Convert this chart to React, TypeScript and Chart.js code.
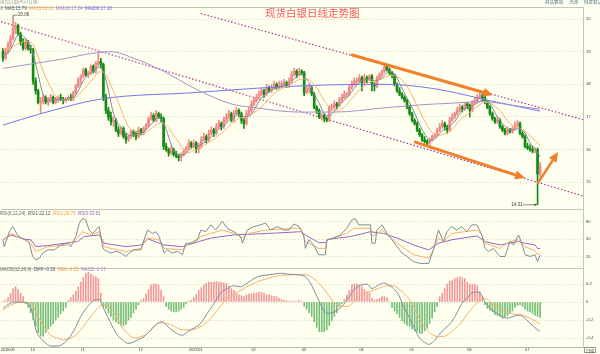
import React, { useEffect, useRef } from 'react';
import { Chart, registerables } from 'chart.js';
Chart.register(...registerables);

// ---------- price candles (index = trading day) ----------
const opens = [
  19.0,18.8,19.0,19.2,19.4,19.7,19.8,19.55,19.3,19.1,
  19.3,19.1,19.05,18.1,17.8,17.45,17.5,17.6,17.45,17.55,
  17.6,17.45,17.5,17.6,17.55,17.5,17.55,17.6,17.55,17.75,
  17.95,18.15,18.25,18.45,18.3,18.35,18.55,18.4,18.65,18.7,
  18.6,17.6,17.2,17.0,16.85,16.9,16.6,16.5,16.65,16.4,
  16.3,16.4,16.55,16.5,16.4,16.6,16.5,16.65,16.75,16.95,
  17.05,16.9,17.1,17.0,16.95,16.1,16.0,15.9,16.0,15.85,
  15.8,15.75,15.85,15.95,16.05,16.2,16.1,16.2,16.0,16.1,
  16.3,16.4,16.3,16.5,16.6,16.5,16.7,16.8,16.7,16.9,
  17.0,17.1,16.9,17.1,17.2,17.1,16.9,16.8,17.1,17.2,
  17.4,17.5,17.6,17.7,17.8,17.7,17.9,17.8,17.9,18.0,
  17.9,18.0,18.0,18.05,17.95,18.1,18.3,18.4,18.3,18.4,
  18.35,17.75,17.85,17.9,17.7,17.3,17.2,17.0,17.05,16.95,
  16.9,17.3,17.3,17.4,17.35,17.5,17.6,17.7,17.7,17.9,
  18.0,18.1,18.1,18.2,18.05,18.2,18.15,18.25,18.0,17.95,
  18.2,18.3,18.4,18.55,18.45,18.35,18.3,18.0,17.8,17.7,
  17.6,17.5,17.3,17.1,16.9,16.8,16.6,16.45,16.3,16.25,
  16.2,16.3,16.4,16.45,16.6,16.7,16.8,16.7,16.6,16.9,
  17.0,17.1,17.2,17.3,17.25,17.4,17.35,17.2,17.45,17.5,
  17.6,17.65,17.6,17.45,17.3,17.1,16.95,16.85,16.9,16.7,
  16.6,16.5,16.6,16.55,16.65,16.75,16.8,16.5,16.4,16.1,
  16.05,16.0,15.95,16.0,15.25,
];
const highs = [
  19.1,19.1,19.3,19.5,20.06,19.9,19.85,19.6,19.4,19.4,
  19.35,19.2,19.1,18.2,17.85,17.6,17.7,17.65,17.6,17.7,
  17.65,17.6,17.65,17.7,17.6,17.6,17.65,17.7,17.8,18.0,
  18.2,18.3,18.5,18.5,18.4,18.6,18.6,18.7,19.0,18.8,
  18.65,17.7,17.3,17.15,17.0,16.95,16.7,16.7,16.7,16.5,
  16.45,16.6,16.6,16.55,16.7,16.65,16.7,16.8,17.0,17.15,
  17.1,17.2,17.15,17.1,17.0,16.2,16.05,16.1,16.05,15.95,
  15.85,15.9,16.0,16.1,16.3,16.25,16.3,16.25,16.2,16.4,
  16.5,16.45,16.6,16.7,16.65,16.8,16.9,16.85,17.0,17.1,
  17.2,17.15,17.2,17.3,17.25,17.15,16.95,17.2,17.3,17.5,
  17.6,17.7,17.8,17.9,17.85,18.0,17.95,18.0,18.1,18.05,
  18.1,18.1,18.15,18.1,18.2,18.4,18.5,18.45,18.5,18.45,
  18.4,17.95,18.0,17.95,17.75,17.35,17.25,17.1,17.1,17.0,
  17.35,17.4,17.5,17.45,17.6,17.7,17.8,17.75,18.0,18.1,
  18.2,18.2,18.3,18.25,18.3,18.25,18.3,18.3,18.05,18.25,
  18.35,18.45,18.6,18.62,18.5,18.4,18.3,18.05,17.9,17.75,
  17.65,17.55,17.35,17.15,16.95,16.85,16.65,16.5,16.4,16.3,
  16.35,16.45,16.5,16.65,16.8,16.9,16.85,16.75,17.0,17.1,
  17.15,17.3,17.4,17.35,17.45,17.45,17.4,17.5,17.6,17.7,
  17.75,17.7,17.65,17.5,17.35,17.15,17.0,17.0,16.95,16.75,
  16.65,16.7,16.65,16.7,16.85,16.9,16.85,16.55,16.45,16.2,
  16.15,16.1,16.05,16.05,15.6,
];
const lows = [
  18.7,18.75,18.95,19.1,19.35,19.55,19.5,19.2,19.05,19.05,
  19.05,18.95,18.0,17.7,17.4,17.1,17.4,17.4,17.35,17.45,
  17.4,17.4,17.45,17.5,17.4,17.45,17.5,17.5,17.5,17.7,
  17.9,18.0,18.2,18.25,18.2,18.3,18.35,18.35,18.55,18.5,
  17.5,17.1,16.9,16.75,16.7,16.55,16.4,16.45,16.35,16.2,
  16.25,16.35,16.4,16.3,16.35,16.45,16.45,16.6,16.7,16.9,
  16.85,16.85,16.95,16.85,16.0,15.95,15.8,15.85,15.8,15.75,
  15.65,15.65,15.8,15.9,16.0,16.05,16.05,15.9,15.9,16.05,
  16.25,16.2,16.25,16.45,16.4,16.45,16.65,16.6,16.65,16.85,
  16.95,16.85,16.85,17.05,17.0,16.8,16.65,16.75,17.05,17.15,
  17.35,17.45,17.55,17.65,17.6,17.65,17.75,17.75,17.85,17.85,
  17.85,17.9,17.95,17.9,17.9,18.05,18.25,18.2,18.25,18.3,
  17.65,17.7,17.75,17.65,17.25,17.1,16.95,16.9,16.85,16.85,
  16.85,17.2,17.25,17.25,17.3,17.45,17.55,17.6,17.65,17.85,
  17.95,18.0,18.05,17.8,18.0,18.05,18.1,17.8,17.8,17.9,
  18.15,18.25,18.35,18.4,18.3,18.2,17.95,17.75,17.65,17.55,
  17.45,17.25,17.05,16.85,16.75,16.55,16.4,16.25,16.2,16.1,
  16.15,16.25,16.35,16.4,16.55,16.65,16.6,16.5,16.55,16.85,
  16.95,17.05,17.15,17.15,17.2,17.25,17.0,17.15,17.4,17.45,
  17.55,17.5,17.4,17.25,17.05,16.9,16.8,16.8,16.65,16.55,
  16.45,16.45,16.5,16.5,16.6,16.7,16.45,16.35,16.05,16.0,
  15.95,15.9,15.9,14.31,15.15,
];
const closes = [
  18.8,19.0,19.2,19.4,19.7,19.8,19.55,19.3,19.1,19.3,
  19.1,19.05,18.1,17.8,17.45,17.5,17.6,17.45,17.55,17.6,
  17.45,17.5,17.6,17.55,17.5,17.55,17.6,17.55,17.75,17.95,
  18.15,18.25,18.45,18.3,18.35,18.55,18.4,18.65,18.7,18.6,
  17.6,17.2,17.0,16.85,16.9,16.6,16.5,16.65,16.4,16.3,
  16.4,16.55,16.5,16.4,16.6,16.5,16.65,16.75,16.95,17.05,
  16.9,17.1,17.0,16.95,16.1,16.0,15.9,16.0,15.85,15.8,
  15.75,15.85,15.95,16.05,16.2,16.1,16.2,16.0,16.1,16.3,
  16.4,16.3,16.5,16.6,16.5,16.7,16.8,16.7,16.9,17.0,
  17.1,16.9,17.1,17.2,17.1,16.9,16.8,17.1,17.2,17.4,
  17.5,17.6,17.7,17.8,17.7,17.9,17.8,17.9,18.0,17.9,
  18.0,18.0,18.05,17.95,18.1,18.3,18.4,18.3,18.4,18.35,
  17.75,17.85,17.9,17.7,17.3,17.2,17.0,17.05,16.95,16.9,
  17.3,17.3,17.4,17.35,17.5,17.6,17.7,17.7,17.9,18.0,
  18.1,18.1,18.2,18.05,18.2,18.15,18.25,18.0,17.95,18.2,
  18.3,18.4,18.55,18.45,18.35,18.3,18.0,17.8,17.7,17.6,
  17.5,17.3,17.1,16.9,16.8,16.6,16.45,16.3,16.25,16.2,
  16.3,16.4,16.45,16.6,16.7,16.8,16.7,16.6,16.9,17.0,
  17.1,17.2,17.3,17.25,17.4,17.35,17.2,17.45,17.5,17.6,
  17.65,17.6,17.45,17.3,17.1,16.95,16.85,16.9,16.7,16.6,
  16.5,16.6,16.55,16.65,16.75,16.8,16.5,16.4,16.1,16.05,
  16.0,15.95,16.0,15.25,15.5,
];

// ---------- moving averages (read every 2nd day) ----------
const ma5 = [
  18.9,18.96,19.22,19.53,19.49,19.27,18.93,18.3,17.69,17.51,
  17.53,17.54,17.52,17.56,17.59,17.8,18.11,18.3,18.41,18.53,
  18.39,17.82,17.11,16.77,16.61,16.45,16.43,16.49,16.53,16.69,
  16.86,17.0,16.81,16.39,15.97,15.86,15.84,15.96,16.1,16.12,
  16.2,16.32,16.46,16.62,16.72,16.9,17.0,17.08,17.02,17.02,
  17.2,17.48,17.66,17.78,17.86,17.92,17.99,18.02,18.16,18.3,
  18.24,18.05,17.7,17.42,17.1,17.04,17.17,17.37,17.51,17.68,
  17.88,18.06,18.13,18.17,18.11,18.14,18.28,18.41,18.33,18.03,
  17.72,17.44,17.12,16.77,16.48,16.3,16.32,16.49,16.65,16.74,
  16.86,17.1,17.25,17.3,17.38,17.48,17.56,17.42,17.13,16.9,
  16.71,16.59,16.61,16.65,16.51,16.21,16.02,15.79,
];
const ma10 = [
  19.1,19.1,19.15,19.25,19.3,19.32,19.22,18.84,18.4,18.06,
  17.76,17.57,17.52,17.55,17.56,17.67,17.84,18.0,18.18,18.37,
  18.37,18.15,17.79,17.44,17.04,16.7,16.56,16.51,16.49,16.58,
  16.69,16.8,16.8,16.66,16.44,16.23,16.01,15.91,15.97,16.01,
  16.12,16.22,16.31,16.44,16.56,16.72,16.84,16.95,16.99,17.03,
  17.13,17.25,17.39,17.56,17.72,17.82,17.9,17.96,18.06,18.15,
  18.17,18.14,17.99,17.78,17.49,17.3,17.21,17.22,17.3,17.47,
  17.66,17.83,17.95,18.07,18.1,18.15,18.21,18.27,18.27,18.19,
  18.05,17.81,17.5,17.18,16.88,16.62,16.47,16.44,16.48,16.57,
  16.71,16.9,17.02,17.14,17.28,17.38,17.45,17.43,17.32,17.2,
  16.99,16.8,16.7,16.65,16.56,16.42,16.28,16.11,
];
const ma100Pts: [number, number][] = [
  [0,18.49],[21,18.74],[43,19.0],[52,18.8],[63,18.44],[77,17.85],[91,17.4],[99,17.3],
  [118,17.15],[132,17.15],[152,17.28],[166,17.37],[178,17.42],[191,17.47],[202,17.37],[214,17.24],
];
const ma200Pts: [number, number][] = [
  [0,16.75],[15,17.1],[39,17.55],[77,17.75],[101,17.88],[128,17.98],[152,18.0],
  [166,17.93],[178,17.78],[191,17.55],[202,17.37],[214,17.18],
];

// ---------- hand-drawn annotations (index, price) ----------
const trendLines: [number, number, number, number][] = [
  [-0.8, 19.92, 231.1, 14.58],
  [78.8, 20.17, 231.1, 16.92],
];
const arrows: [number, number, number, number][] = [
  [139.2, 18.9, 195.3, 17.67],
  [164.3, 16.23, 208.0, 15.13],
  [213.2, 14.98, 221.2, 15.93],
];
const arrowWidths = [3, 3, 2.5];

// ---------- RSI(6,12,24) ----------
const rsi1Pts: [number, number][] = [
  [0,49],[0.5,37],[2.5,63],[3.8,72],[5.8,57.5],[7.2,52],[9.2,49],[10.5,43],[11.8,20],[13.1,14],
  [14.5,17],[15.8,26],[17.8,31.5],[20.4,31.5],[23.1,40],[25.7,43],[27,37],[29,54.6],[30.4,78],[31.7,86],
  [33,83.5],[34.3,66],[35.7,60],[37,66],[38.3,72],[39.7,37],[40.3,31.5],[41.6,29],[43,26],[45,29],
  [47,26],[49,20],[50.3,26],[52.3,31.5],[54.9,31.5],[56.2,49],[57.6,66],[59.5,60],[60.9,63],[62.2,54.6],
  [64.2,26],[65.5,31.5],[67.5,26],[69.5,29],[71.5,23],[72.8,43],[75.5,43],[77.5,49],[78.8,66],[80.8,63],
  [82.8,75],[84.7,66],[87.4,81],[89.4,69],[92,63],[94.7,54.6],[95.4,43],[97.3,66],[100,72],[102.6,75],
  [104.6,78],[106.6,66],[109.3,72],[111.9,66],[113.9,66],[115.9,76.6],[118,72],[119.8,57.5],[120.5,34],[121.8,49],
  [123.8,40],[125.8,23],[128.4,23],[129.1,49],[131.8,52],[134.4,57.5],[137,69],[139,83.5],[140.4,86],[141.7,75],
  [143.7,75],[146.4,75],[147,43],[148.3,43],[149,66],[151,75],[153,60],[155,49],[157,37],[159,26],
  [161,20],[163.6,11],[166.2,8],[169.6,8],[171.5,31.5],[173.5,66],[175.5,46],[176.9,63],[178.8,72],[180.8,66],
  [182.8,72],[184.8,63],[186.8,75],[188.8,75],[190.8,57.5],[192.1,34],[193.4,28.6],[195.4,34],[198,20],[200,20],
  [202,46],[203.4,40],[205.4,57.5],[206.7,43],[208,23],[210,20],[212,23],[213,11],[214,22.1],
];
const rsi2Pts: [number, number][] = [
  [0,49],[3.2,60],[7.2,52],[11.1,43],[13.1,28.6],[17.8,37],[25.7,40],[29,49],[31.7,63],[35,57.5],
  [38.3,63],[40.3,37],[43,34],[49,28.6],[54.9,34],[57.6,52],[62.2,49],[64.2,34],[71.5,31.5],[73.5,40],
  [78.8,54.6],[82.8,60],[87.4,66],[92,60],[95.4,52],[98,60],[104.6,66],[115.9,69],[118.5,69],[120.5,46],
  [125.8,34],[128.4,34],[129.1,49],[137,60],[139.7,69],[146.4,69],[147,54.6],[149,60],[151,66],[157,43],
  [163.6,23],[169.6,17],[171.5,31.5],[173.5,52],[175.5,46],[178.8,60],[188.8,66],[190.8,57.5],[192.1,43],[198,34],
  [202,46],[205.4,49],[208,37],[212,30],[213,23],[214,26.8],
];
const rsi3Pts: [number, number][] = [
  [0,49],[3.2,57.5],[8.5,50],[11.1,49],[13.1,37],[17.8,39],[29.7,46],[32.4,54.6],[38.3,57.5],[40.3,43],
  [49,37],[54.9,40],[57.6,50.6],[64.2,40],[71.5,37],[73.5,40],[82.8,52],[92,57.5],[105.3,60],[118.5,63],
  [120.5,57.5],[125.8,44],[128.4,44],[129.8,50],[138.4,54.6],[146.4,63],[151.7,60],[157,52],[163.6,40],[169.6,31.5],
  [173.5,43],[178.8,49],[188.8,55.8],[192.1,46],[198,40],[205.4,46],[208,43],[212,40],[213,34],[214,33.8],
];

// ---------- MACD(12,26,9) ----------
const macdHist = [
  0.01,0.02,0.05,0.1,0.15,0.17,0.14,0.1,0.06,-0.02,
  -0.06,-0.12,-0.2,-0.27,-0.34,-0.38,-0.38,-0.34,-0.3,-0.27,
  -0.24,-0.2,-0.17,-0.13,-0.1,-0.06,0.02,0.05,0.08,0.12,
  0.17,0.22,0.27,0.32,0.33,0.31,0.29,0.28,0.26,0.1,
  -0.05,-0.07,-0.12,-0.16,-0.2,-0.22,-0.24,-0.26,-0.26,-0.25,
  -0.2,-0.17,-0.12,-0.08,-0.03,0.02,0.04,0.09,0.14,0.19,
  0.2,0.2,0.19,0.13,0.06,-0.05,-0.08,-0.1,-0.11,-0.11,
  -0.1,-0.08,-0.06,-0.02,0.01,0.02,0.05,0.08,0.13,0.16,
  0.19,0.21,0.22,0.22,0.22,0.23,0.22,0.22,0.21,0.21,
  0.18,0.15,0.13,0.1,0.08,0.07,0.06,0.08,0.09,0.09,
  0.1,0.1,0.11,0.11,0.1,0.08,0.08,0.07,0.06,0.06,
  0.04,0.03,0.02,0.015,0.01,0.005,0.01,0.005,0.02,0.005,
  -0.05,-0.08,-0.12,-0.16,-0.22,-0.28,-0.33,-0.33,-0.33,-0.31,
  -0.26,-0.21,-0.16,-0.12,-0.05,-0.02,0.03,0.08,0.13,0.19,
  0.2,0.2,0.19,0.17,0.14,0.11,0.1,0.04,0.02,0.03,
  0.04,0.06,0.06,0.05,0.005,-0.06,-0.1,-0.13,-0.17,-0.21,
  -0.24,-0.26,-0.27,-0.3,-0.32,-0.33,-0.35,-0.35,-0.32,-0.29,
  -0.24,-0.18,-0.11,-0.05,0.06,0.1,0.15,0.2,0.23,0.24,
  0.26,0.27,0.28,0.27,0.26,0.22,0.2,0.2,0.2,0.18,
  0.12,0.06,-0.03,-0.07,-0.09,-0.11,-0.14,-0.15,-0.16,-0.18,
  -0.17,-0.15,-0.13,-0.1,-0.06,-0.04,-0.03,-0.05,-0.08,-0.1,
  -0.11,-0.13,-0.15,-0.16,-0.17,
];
const diffPts: [number, number][] = [
  [0,-0.07],[1.9,-0.03],[4.5,0],[7.2,0],[9.8,-0.015],[11.8,-0.13],[13.1,-0.31],[14.5,-0.385],[16.4,-0.44],[19.1,-0.49],
  [21.1,-0.49],[23.1,-0.48],[25.7,-0.42],[28.4,-0.31],[31,-0.16],[33.7,-0.05],[36.3,0.02],[38.3,0.03],[39.7,-0.05],[41.6,-0.16],
  [43.6,-0.27],[45.6,-0.37],[47.6,-0.42],[49.6,-0.46],[51.6,-0.45],[53.6,-0.42],[56.2,-0.385],[58.9,-0.31],[61.5,-0.24],[63.5,-0.22],
  [65.5,-0.27],[68.2,-0.33],[71.5,-0.37],[73.5,-0.33],[76.1,-0.29],[78.8,-0.236],[81.4,-0.126],[84.1,-0.015],[86.7,0.1],[89.4,0.15],
  [92,0.18],[94.7,0.17],[97.3,0.21],[100,0.26],[102.6,0.29],[105.3,0.3],[108,0.31],[110.6,0.32],[113.3,0.31],[115.9,0.305],
  [118.5,0.3],[120.5,0.28],[122.5,0.21],[125.1,0.06],[127.8,-0.09],[129.1,-0.126],[131.1,-0.12],[133.1,-0.09],[135.7,-0.03],[138.4,0.08],
  [140.4,0.15],[143,0.19],[145,0.2],[147,0.15],[149.7,0.19],[151.7,0.21],[153.6,0.19],[155.6,0.15],[157.6,0.08],[159.6,-0.05],
  [161.6,-0.16],[163.6,-0.27],[165.6,-0.385],[167.6,-0.44],[169.6,-0.47],[171.5,-0.44],[173.5,-0.37],[175.5,-0.31],[178.2,-0.24],[180.8,-0.126],
  [182.8,-0.015],[184.8,0.04],[186.8,0.1],[188.8,0.11],[190.1,0.1],[192.1,0],[194.1,-0.07],[196.8,-0.126],[198.7,-0.16],[200.7,-0.18],
  [203.4,-0.16],[206,-0.144],[208.7,-0.2],[211.3,-0.27],[214,-0.33],
];
const deaPts: [number, number][] = [
  [0,-0.09],[3.2,-0.033],[7.2,0],[11.1,-0.015],[13.8,-0.16],[16.4,-0.27],[19.1,-0.37],[21.7,-0.4],[24.4,-0.42],[27,-0.4],
  [29.7,-0.35],[32.4,-0.26],[35,-0.16],[37.7,-0.07],[39.7,-0.033],[41.6,-0.05],[44.3,-0.126],[47,-0.26],[49.6,-0.35],[52.3,-0.4],
  [54.9,-0.385],[57.6,-0.35],[60.2,-0.27],[62.9,-0.23],[65.5,-0.24],[68.2,-0.27],[71.5,-0.31],[74.8,-0.31],[77.5,-0.29],[81.4,-0.22],
  [85.4,-0.09],[89.4,0.04],[93.4,0.11],[97.3,0.17],[101.3,0.226],[105.3,0.26],[109.3,0.29],[113.3,0.3],[118.5,0.305],[121.2,0.3],
  [123.8,0.26],[126.5,0.19],[129.1,0.1],[131.8,0],[134.4,-0.044],[137.1,-0.05],[139.7,0],[142.4,0.08],[145,0.11],[147.7,0.13],
  [150.3,0.16],[153,0.18],[155.6,0.18],[158.3,0.13],[161,0.06],[163.6,-0.05],[166.2,-0.2],[168.9,-0.31],[171.5,-0.37],[174.2,-0.385],
  [176.9,-0.37],[179.5,-0.31],[182.2,-0.24],[184.8,-0.14],[187.5,-0.05],[190.1,0.02],[192.1,0.04],[194.1,0],[196.8,-0.05],[199.4,-0.09],
  [202,-0.126],[206,-0.144],[210,-0.18],[214,-0.245],
];

// ---------- axes ----------
const monthTicks = [-0.8, 11, 31, 54, 74, 99, 119, 142, 162, 185, 208];
const monthLabels = ['2016/09', '10', '11', '12', '2017/01', '02', '03', '04', '05', '06', '07'];
const priceTicks = [15, 16, 17, 18, 19, 20];
const rsiTicks = [20, 50, 80];
const macdTicks = [-0.4, -0.2, 0, 0.2];

// ---------- header texts ----------
const maLegend: [string, string][] = [
  ['MA5:15.79', '#44556a'], ['MA10:16.11', '#f0a040'], ['MA100:17.24', '#9a7cc8'], ['MA200:17.18', '#6262e8'],
];
const rsiLegend: [string, string][] = [
  ['RSI(6,12,24)', '#666'], ['RSI1:22.12', '#44556a'], ['RSI2:26.76', '#f0a040'], ['RSI3:33.81', '#9060c0'],
];
const macdLegend: [string, string][] = [
  ['MACD(12,26,9)', '#666'], ['DIFF:-0.33', '#44556a'], ['DEA:-0.25', '#f0a040'], ['MACD:-0.17', '#9a7cc8'],
];
const title = '现货白银日线走势图';

const BG = '#fffff0';
const UP = '#f28a8a';
const DOWN = '#128a12';
const ARROW = '#f0802c';
const LATIN = '"Liberation Sans", Arial, sans-serif';
const CJK = '"Noto Sans CJK SC", sans-serif';

const pts = (a: [number, number][]) => a.map(([x, y]) => ({ x, y }));
const lineDs = (data: any[], color: string, yAxisID: string, extra: any = {}) => ({
  type: 'line', data, borderColor: color, borderWidth: 1, pointRadius: 0, yAxisID, xAxisID: 'x',
  fill: false, order: 1, ...extra,
});

const overlayPlugin = {
  id: 'overlay',
  beforeDatasetsDraw(chart: any) {
    const { ctx, chartArea } = chart;
    ctx.save();
    ctx.strokeStyle = '#c6c6c0';
    ctx.lineWidth = 1;
    for (const y of [chartArea.top, chart.scales.yRsi.top, chart.scales.yMacd.top]) {
      const yy = Math.round(y) + 0.5;
      ctx.beginPath(); ctx.moveTo(chartArea.left, yy); ctx.lineTo(chartArea.right, yy); ctx.stroke();
    }
    ctx.restore();
  },
  afterDatasetsDraw(chart: any) {
    const { ctx } = chart;
    const xs = chart.scales.x, ys = chart.scales.y;
    ctx.save();
    arrows.forEach(([x0, v0, x1, v1], k) => {
      const ax = xs.getPixelForValue(x0), ay = ys.getPixelForValue(v0);
      const bx = xs.getPixelForValue(x1), by = ys.getPixelForValue(v1);
      const ang = Math.atan2(by - ay, bx - ax);
      const head = 10, hw = 4.5;
      const c = Math.cos(ang), s = Math.sin(ang);
      ctx.strokeStyle = ARROW; ctx.fillStyle = ARROW; ctx.lineWidth = arrowWidths[k]; ctx.lineCap = 'round';
      ctx.beginPath(); ctx.moveTo(ax, ay); ctx.lineTo(bx - c * head * 0.7, by - s * head * 0.7); ctx.stroke();
      ctx.beginPath();
      ctx.moveTo(bx, by);
      ctx.lineTo(bx - c * head + s * hw, by - s * head - c * hw);
      ctx.lineTo(bx - c * head - s * hw, by - s * head + c * hw);
      ctx.closePath(); ctx.fill();
    });
    // extreme labels
    let iH = 0, iL = 0;
    highs.forEach((v, i) => { if (v > highs[iH]) iH = i; });
    lows.forEach((v, i) => { if (v < lows[iL]) iL = i; });
    ctx.fillStyle = '#333'; ctx.strokeStyle = '#555'; ctx.lineWidth = 0.7;
    ctx.font = `4.5px ${LATIN}`; ctx.textBaseline = 'middle';
    const hx = xs.getPixelForValue(iH), hy = ys.getPixelForValue(highs[iH]);
    ctx.beginPath(); ctx.moveTo(hx, hy); ctx.lineTo(hx, hy - 2); ctx.lineTo(hx + 4, hy - 2); ctx.stroke();
    ctx.textAlign = 'left'; ctx.fillText(highs[iH].toFixed(2), hx + 5, hy - 2);
    const lx = xs.getPixelForValue(iL), ly = ys.getPixelForValue(lows[iL]);
    ctx.beginPath(); ctx.moveTo(lx - 14, ly); ctx.lineTo(lx - 1, ly); ctx.stroke();
    ctx.beginPath(); ctx.moveTo(lx - 1, ly); ctx.lineTo(lx - 3, ly - 1.2); ctx.lineTo(lx - 3, ly + 1.2); ctx.closePath(); ctx.fill();
    ctx.textAlign = 'right'; ctx.fillText(lows[iL].toFixed(2), lx - 15, ly);
    ctx.restore();
  },
};

const yCommon = (ticksArr: number[]) => ({
  type: 'linear', axis: 'y', position: 'right', stack: 'panes', offset: false,
  afterBuildTicks: (s: any) => { s.ticks = ticksArr.map((v) => ({ value: v })); },
  afterFit: (s: any) => { s.width = 17; },
  grid: { color: '#d6d6c8', drawTicks: false, lineWidth: 1 },
  border: { display: true, color: '#c4c4c4', dash: [1, 2] },
  ticks: { font: { size: 4.2, family: LATIN }, color: '#444', padding: 3, callback: (v: number) => String(v) },
});

function Header({ top, items, left = 0 }: { top: number; items: [string, string][]; left?: number }) {
  return (
    <div style={{ position: 'absolute', left, top, display: 'flex', gap: '2.5px', fontSize: '4.5px', lineHeight: '6px', fontFamily: LATIN, whiteSpace: 'nowrap' }}>
      {items.map(([t, c], k) => <span key={k} style={{ color: c }}>{t}</span>)}
    </div>
  );
}

export default function App() {
  const ref = useRef<HTMLCanvasElement>(null);
  useEffect(() => {
    const canvas = ref.current;
    if (!canvas) return;
    const idx = closes.map((_, i) => i);
    const colors = idx.map((i) => (closes[i] >= opens[i] ? UP : DOWN));
    const datasets: any[] = [
      lineDs(ma5.map((v, k) => ({ x: k * 2, y: v })), '#7f8c9a', 'y', { tension: 0.25 }),
      lineDs(ma10.map((v, k) => ({ x: k * 2, y: v })), '#f6b06a', 'y', { tension: 0.25 }),
      lineDs(pts(ma100Pts), '#a891c9', 'y', { cubicInterpolationMode: 'monotone' }),
      lineDs(pts(ma200Pts), '#7474ec', 'y', { cubicInterpolationMode: 'monotone' }),
      ...trendLines.map(([x0, y0, x1, y1]) =>
        lineDs([{ x: x0, y: y0 }, { x: x1, y: y1 }], '#a8389a', 'y', { borderDash: [1.5, 2], borderWidth: 1.2, order: 4 })),
      { type: 'bar', data: idx.map((i) => ({ x: i, y: [opens[i], closes[i]] })), backgroundColor: colors,
        barThickness: 2, minBarLength: 1, grouped: false, yAxisID: 'y', xAxisID: 'x', order: 2, borderWidth: 0 },
      { type: 'bar', data: idx.map((i) => ({ x: i, y: [lows[i], highs[i]] })), backgroundColor: colors,
        barThickness: 1, grouped: false, yAxisID: 'y', xAxisID: 'x', order: 3, borderWidth: 0 },
      lineDs(pts(rsi1Pts), '#7f8c9a', 'yRsi'),
      lineDs(pts(rsi2Pts), '#f6b06a', 'yRsi'),
      lineDs(pts(rsi3Pts), '#9468c4', 'yRsi'),
      { type: 'bar', data: macdHist.map((v, i) => ({ x: i, y: v })),
        backgroundColor: macdHist.map((v) => (v >= 0 ? '#f29a9a' : '#78bf78')),
        barThickness: 1, grouped: false, yAxisID: 'yMacd', xAxisID: 'x', order: 5, borderWidth: 0 },
      lineDs(pts(diffPts), '#7f8c9a', 'yMacd', { cubicInterpolationMode: 'monotone' }),
      lineDs(pts(deaPts), '#f6b06a', 'yMacd', { cubicInterpolationMode: 'monotone' }),
    ];
    const chart = new Chart(canvas, {
      type: 'bar',
      data: { datasets },
      options: {
        animation: false,
        responsive: false,
        devicePixelRatio: 1,
        layout: { padding: { top: 7, left: 0, right: 0, bottom: 0 } },
        plugins: { legend: { display: false }, tooltip: { enabled: false }, title: { display: false } },
        scales: {
          x: {
            type: 'linear', min: -0.8, max: 231.1, offset: false, position: 'bottom',
            grid: { display: false, drawTicks: false },
            border: { display: true, color: '#b8b8b8' },
            afterBuildTicks: (s: any) => { s.ticks = monthTicks.map((v) => ({ value: v })); },
            afterFit: (s: any) => { s.height = 7; },
            ticks: { autoSkip: false, maxRotation: 0, minRotation: 0, align: 'start', padding: 1,
              font: { size: 3.8, family: LATIN }, color: '#333',
              callback: (_v: any, i: number) => monthLabels[i] },
          },
          y: { ...yCommon(priceTicks), stackWeight: 202, min: 14.18, max: 20.37 },
          yRsi: { ...yCommon(rsiTicks), stackWeight: 59, min: 0, max: 102.5 },
          yMacd: { ...yCommon(macdTicks), stackWeight: 79, min: -0.5, max: 0.378 },
        },
      } as any,
      plugins: [overlayPlugin],
    } as any);
    return () => chart.destroy();
  }, []);

  return (
    <div style={{ position: 'fixed', left: 0, top: 0, width: 600, height: 354, background: BG, overflow: 'hidden' }}>
      <canvas ref={ref} width={600} height={354} style={{ display: 'block', width: 600, height: 354 }} />
      <div style={{ position: 'absolute', left: 0, top: -2, fontSize: '4.5px', color: '#999', fontFamily: CJK, whiteSpace: 'nowrap' }}>现货白银(AG)(日线)</div>
      <div style={{ position: 'absolute', left: 545, top: -2, display: 'flex', gap: '6px', fontSize: '4.5px', color: '#4a6a8a', fontFamily: CJK, whiteSpace: 'nowrap' }}>
        <span>商品叠加</span><span>关闭</span><span>恢复默认</span>
      </div>
      <div style={{ position: 'absolute', left: 0, top: 6, fontSize: '4.5px', lineHeight: '6px', color: '#666', fontFamily: LATIN }}>X</div>
      <Header top={6} left={5} items={maLegend} />
      <div style={{ position: 'absolute', left: 265, top: 6, fontSize: '10.5px', lineHeight: '13px', color: '#ff5a5a', fontFamily: CJK, whiteSpace: 'nowrap' }}>{title}</div>
      <Header top={211} items={rsiLegend} />
      <Header top={267} items={macdLegend} />
      <div style={{ position: 'absolute', left: 584, top: 347, width: 12, height: 6, border: '0.5px solid #999', fontSize: '4px', lineHeight: '6px', textAlign: 'center', color: '#444', fontFamily: CJK, boxSizing: 'border-box' }}>日线</div>
    </div>
  );
}
